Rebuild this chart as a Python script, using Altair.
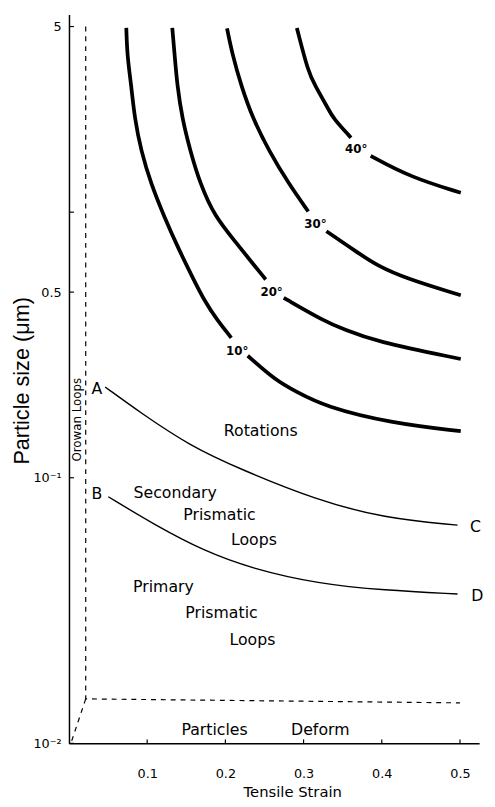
import altair as alt
import pandas as pd

# ---- data (strain, particle size in um) ----
c10_upper_x = [0.0733, 0.0745, 0.0796, 0.0839, 0.0922, 0.1048, 0.1216, 0.1403, 0.1597, 0.1740, 0.1887, 0.2075]
c10_upper_y = [4.94, 3.88, 3.005, 2.262, 1.701, 1.280, 0.964, 0.725, 0.555, 0.460, 0.395, 0.3365]
c10_lower_x = [0.2286, 0.2642, 0.2893, 0.3270, 0.4109, 0.5010]
c10_lower_y = [0.288, 0.2326, 0.2118, 0.1853, 0.1608, 0.1497]

c20_upper_x = [0.1321, 0.1352, 0.1384, 0.1447, 0.1551, 0.1677, 0.1862, 0.2138, 0.2327, 0.2516]
c20_upper_y = [4.94, 3.88, 3.005, 2.262, 1.701, 1.280, 0.964, 0.768, 0.653, 0.558]
c20_lower_x = [0.2746, 0.3270, 0.3522, 0.3899, 0.5010]
c20_lower_y = [0.476, 0.388, 0.3614, 0.3271, 0.2799]

c30_upper_x = [0.2021, 0.2094, 0.2201, 0.2348, 0.2557, 0.2809, 0.3060]
c30_upper_y = [4.92, 3.88, 3.005, 2.262, 1.701, 1.280, 1.006]
c30_lower_x = [0.3292, 0.3689, 0.3941, 0.4318, 0.5010]
c30_lower_y = [0.848, 0.705, 0.629, 0.5615, 0.4864]

c40_upper_x = [0.2914, 0.3060, 0.3145, 0.3312, 0.3375, 0.3606]
c40_upper_y = [4.94, 3.365, 3.005, 2.463, 2.262, 1.908]
c40_lower_x = [0.3858, 0.4361, 0.5010]
c40_lower_y = [1.630, 1.356, 1.183]

ac_x = [0.0462, 0.0922, 0.1551, 0.2180, 0.3166, 0.4025, 0.4969]
ac_y = [0.2197, 0.1751, 0.1317, 0.1080, 0.0824, 0.0705, 0.0663]
bd_x = [0.0503, 0.1091, 0.1719, 0.2348, 0.3186, 0.4025, 0.4969]
bd_y = [0.0848, 0.0666, 0.0531, 0.0454, 0.0399, 0.0377, 0.0365]

orowan_x = [0.0214, 0.0214, 0.5]
orowan_y = [5.0, 0.0147, 0.0142]
diag_x = [0.0214, 0.0034]
diag_y = [0.0147, 0.0102]

region_labels = ["Rotations", "Secondary", "Prismatic", "Loops", "Primary", "Prismatic", "Loops", "Particles", "Deform"]
region_x = [0.2453, 0.1358, 0.1925, 0.2365, 0.1208, 0.1950, 0.2346, 0.1862, 0.3214]
region_y = [0.1493, 0.0872, 0.0723, 0.0584, 0.0388, 0.0308, 0.0245, 0.01117, 0.01117]

letter_labels = ["A", "B", "C", "D"]
letter_x = [0.0356, 0.0356, 0.5199, 0.5220]
letter_y = [0.2149, 0.0865, 0.0651, 0.0359]

angle_labels = ["10°", "20°", "30°", "40°"]
angle_x = [0.2151, 0.2591, 0.3151, 0.3673]
angle_y = [0.3005, 0.501, 0.9028, 1.726]

orowan_label = ["Orowan Loops"]
orowan_label_x = [0.0104]
orowan_label_y = [0.1654]

x_ticks = [0.1, 0.2, 0.3, 0.4, 0.5]
x_tick_labels = ["0.1", "0.2", "0.3", "0.4", "0.5"]
y_ticks = [0.01, 0.1, 0.5, 1, 5]
y_tick_labels = ["10⁻²", "10⁻¹", "0.5", "", "5"]

# ---- tables ----
def seg(name, xs, ys):
    return pd.DataFrame({"strain": xs, "size": ys, "seg": name})

thick = pd.concat([
    seg("10u", c10_upper_x, c10_upper_y), seg("10l", c10_lower_x, c10_lower_y),
    seg("20u", c20_upper_x, c20_upper_y), seg("20l", c20_lower_x, c20_lower_y),
    seg("30u", c30_upper_x, c30_upper_y), seg("30l", c30_lower_x, c30_lower_y),
    seg("40u", c40_upper_x, c40_upper_y), seg("40l", c40_lower_x, c40_lower_y),
])
thin = pd.concat([seg("AC", ac_x, ac_y), seg("BD", bd_x, bd_y)])
dashed = pd.concat([seg("orowan", orowan_x, orowan_y), seg("diag", diag_x, diag_y)])
dashed["idx"] = list(range(len(orowan_x))) + list(range(len(diag_x)))

regions = pd.DataFrame({"label": region_labels, "strain": region_x, "size": region_y})
letters = pd.DataFrame({"label": letter_labels, "strain": letter_x, "size": letter_y})
angles = pd.DataFrame({"label": angle_labels, "strain": angle_x, "size": angle_y})
orowan_txt = pd.DataFrame({"label": orowan_label, "strain": orowan_label_x, "size": orowan_label_y})
xt = pd.DataFrame({"strain": x_ticks})
yt = pd.DataFrame({"size": y_ticks})

W, H = 417, 741
xs = alt.Scale(domain=[0, 0.5245], nice=False, zero=False)
ys = alt.Scale(type="log", domain=[0.01, 5.55], nice=False)

def lab_expr(vals, labs):
    parts = [f"abs(datum.value - {v}) < 1e-9 ? '{l}'" for v, l in zip(vals, labs)]
    return " : ".join(parts) + " : ''"

x_axis = alt.Axis(values=x_ticks, labelExpr=lab_expr(x_ticks, x_tick_labels), title="Tensile Strain",
                  grid=False, ticks=False, domainColor="black", domainWidth=1.5,
                  labelFont="DejaVu Sans", labelFontSize=13, labelColor="black", labelPadding=25,
                  titleFont="DejaVu Sans", titleFontSize=15, titleFontWeight="normal", titleColor="black",
                  titleX=227, titleY=54, titleBaseline="alphabetic", titleAlign="center")
y_axis = alt.Axis(values=y_ticks, labelExpr=lab_expr(y_ticks, y_tick_labels), title="Particle size (μm)",
                  grid=False, ticks=False, domainColor="black", domainWidth=1.5,
                  labelFont="DejaVu Sans", labelFontSize=13, labelColor="black", labelPadding=8,
                  titleFont="Liberation Sans", titleFontSize=22, titleFontWeight="normal", titleColor="black",
                  titleAngle=270, titleX=-41, titleY=372, titleBaseline="alphabetic", titleAlign="center")

def X():
    return alt.X("strain:Q", scale=xs, axis=x_axis, title="Tensile Strain")

def Y():
    return alt.Y("size:Q", scale=ys, axis=y_axis, title="Particle size (μm)")

dash_layer = alt.Chart(dashed).mark_line(color="black", strokeWidth=1.2, strokeDash=[5, 5]).encode(
    x=X(), y=Y(), detail="seg:N", order="idx:Q")
thick_layer = alt.Chart(thick).mark_line(color="black", strokeWidth=3.8, interpolate="basis").encode(
    x=X(), y=Y(), detail="seg:N")
thin_layer = alt.Chart(thin).mark_line(color="black", strokeWidth=1.4, interpolate="basis").encode(
    x=X(), y=Y(), detail="seg:N")
xtick_layer = alt.Chart(xt).mark_rule(color="black", strokeWidth=1.2).encode(
    x=X(), y=alt.value(H), y2=alt.value(H - 4))
ytick_layer = alt.Chart(yt).mark_rule(color="black", strokeWidth=1.2).encode(
    y=Y(), x=alt.value(0), x2=alt.value(5))

txt_font = "DejaVu Sans"
region_layer = alt.Chart(regions).mark_text(font=txt_font, fontSize=16, color="black",
                                            align="center", baseline="middle").encode(
    x=X(), y=Y(), text="label:N")
letter_layer = alt.Chart(letters).mark_text(font=txt_font, fontSize=16, color="black",
                                            align="center", baseline="middle").encode(
    x=X(), y=Y(), text="label:N")
angle_layer = alt.Chart(angles).mark_text(font=txt_font, fontSize=12, fontWeight="bold", color="black",
                                          align="center", baseline="middle").encode(
    x=X(), y=Y(), text="label:N")
orowan_layer = alt.Chart(orowan_txt).mark_text(font=txt_font, fontSize=12, color="black", angle=270,
                                               align="center", baseline="middle").encode(
    x=X(), y=Y(), text="label:N")

chart = alt.layer(dash_layer, thick_layer, thin_layer, xtick_layer, ytick_layer,
                  region_layer, letter_layer, angle_layer, orowan_layer).properties(
    width=W, height=H,
    autosize=alt.AutoSizeParams(type="none"),
    padding={"left": 62, "top": 0, "right": 8, "bottom": 50},
    background="white",
).configure_view(stroke=None)

chart.save("out.html", embed_options={"renderer": "svg", "actions": False})
